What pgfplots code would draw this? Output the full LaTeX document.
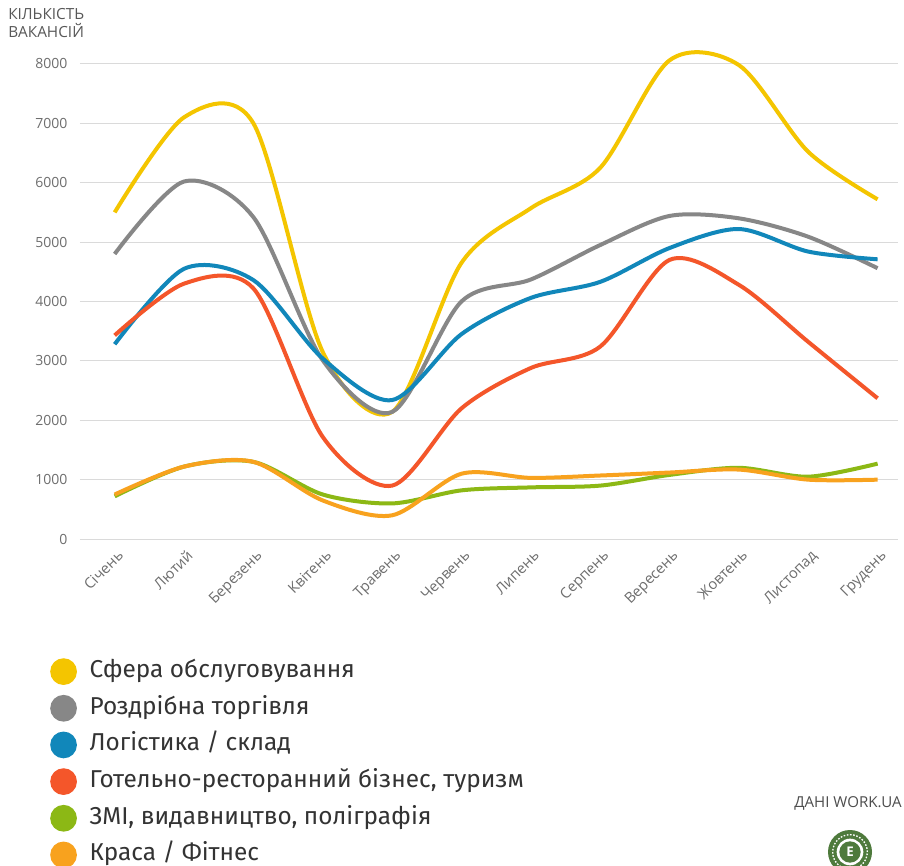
\documentclass[border=0pt]{standalone}
\usepackage{pgfplots}
\pgfplotsset{compat=1.18}
\usepackage{fontspec}
\setmainfont{Open Sans}
\newfontfamily\legfont{Fira Sans}
\definecolor{cyellow}{HTML}{F4C500}
\definecolor{cgray}{HTML}{878787}
\definecolor{cblue}{HTML}{1187BA}
\definecolor{cred}{HTML}{F4562A}
\definecolor{cgreen}{HTML}{8CB815}
\definecolor{corange}{HTML}{F8A21E}
\definecolor{ctext}{HTML}{6E6E6E}
\definecolor{cgrid}{HTML}{DADADA}
\definecolor{logogreen}{HTML}{4E7A3C}
\begin{document}
\begin{tikzpicture}
\clip (0,0) rectangle (678pt,648.75pt);
\fill[white] (0,0) rectangle (678pt,648.75pt);
\node[anchor=north west, align=left, font=\fontsize{11.5}{13.5}\selectfont, text=ctext!80!black, inner sep=0]
  at (6pt,643pt) {КІЛЬКІСТЬ\\ВАКАНСІЙ};
\begin{axis}[
  at={(60pt,240pt)}, anchor=south west,
  scale only axis, width=613.8pt, height=374.2pt,
  xmin=-0.5, xmax=11.3, ymin=-100, ymax=8300,
  axis line style={draw=none},
  tick style={draw=none},
  ymajorgrids, grid style={cgrid, line width=0.8pt},
  ytick={0,1000,...,8000},
  xtick={0,...,11},
  xticklabels={Січень,Лютий,Березень,Квітень,Травень,Червень,Липень,Серпень,Вересень,Жовтень,Листопад,Грудень},
  x tick label style={rotate=45, anchor=north east, font=\fontsize{11}{12}\selectfont, text=ctext, yshift=-2pt, inner sep=1pt},
  y tick label style={font=\fontsize{10.5}{12}\selectfont, text=ctext, xshift=-6pt},
  /pgf/number format/assume math mode=true,
  /pgf/number format/1000 sep={},
  major tick length=0pt,
  clip=false,
  every axis plot/.append style={line width=3pt, smooth, tension=0.5, mark=none},
  legend image code/.code={\fill[#1] (8.5pt,0pt) circle (8.5pt); \path[draw=none, fill=none] (0pt,0pt) -- (28pt,0pt);},
  legend style={at={(-0.0367,-0.2265)}, anchor=north west, draw=none, fill=none,
    font=\legfont\fontsize{18.3}{20}\selectfont, text=black!80,
    row sep=7.5pt, inner sep=0pt,
    nodes={inner sep=0pt, anchor=west, text height=13pt, text depth=4pt}},
  legend cell align=left,
]
\addplot[cyellow] coordinates {(0,5500)(1,7100)(2,7000)(3,3150)(4,2140)(5,4650)(6,5570)(7,6250)(8,8060)(9,7980)(10,6520)(11,5720)};
\addlegendentry{Сфера обслуговування}
\addplot[cgray] coordinates {(0,4800)(1,6020)(2,5420)(3,3010)(4,2140)(5,4000)(6,4370)(7,4950)(8,5440)(9,5400)(10,5090)(11,4560)};
\addlegendentry{Роздрібна торгівля}
\addplot[cblue] coordinates {(0,3280)(1,4550)(2,4360)(3,3040)(4,2340)(5,3450)(6,4060)(7,4330)(8,4900)(9,5220)(10,4840)(11,4710)};
\addlegendentry{Логістика / склад}
\addplot[cred] coordinates {(0,3430)(1,4300)(2,4220)(3,1720)(4,900)(5,2200)(6,2880)(7,3240)(8,4700)(9,4280)(10,3320)(11,2370)};
\addlegendentry{Готельно-ресторанний бізнес, туризм}
\addplot[cgreen] coordinates {(0,720)(1,1220)(2,1300)(3,750)(4,600)(5,820)(6,870)(7,900)(8,1080)(9,1200)(10,1050)(11,1270)};
\addlegendentry{ЗМІ, видавництво, поліграфія}
\addplot[corange] coordinates {(0,750)(1,1220)(2,1300)(3,650)(4,400)(5,1100)(6,1030)(7,1070)(8,1120)(9,1170)(10,1000)(11,1000)};
\addlegendentry{Краса / Фітнес}
\end{axis}
\node[font=\fontsize{11.3}{13}\selectfont, text=ctext!70!black, inner sep=0] at (636pt,46.5pt) {ДАНІ WORK.UA};
\fill[logogreen] (637.5pt,9.75pt) circle (16.5pt);
\draw[white, line width=1pt, dash pattern=on 1.2pt off 1.2pt] (637.5pt,9.75pt) circle (13pt);
\fill[white] (637.5pt,9.75pt) circle (10pt);
\fill[logogreen] (637.5pt,9.75pt) circle (8pt);
\node[text=white, font=\bfseries\fontsize{10}{10}\selectfont, inner sep=0] at (637.5pt,9.75pt) {Е};
\end{tikzpicture}
\end{document}
